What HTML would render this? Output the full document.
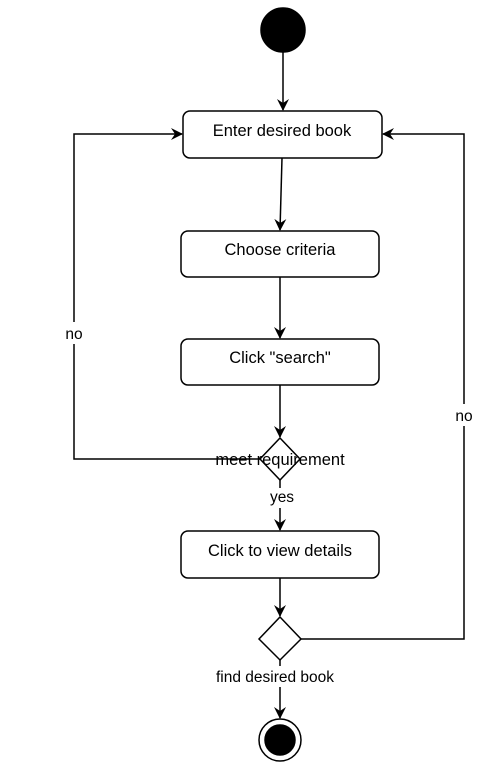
<!DOCTYPE html>
<html><head><style>
html,body{margin:0;padding:0;background:#fff;}
svg text{font-family:"Liberation Sans",Arial,sans-serif;fill:#000;}
</style></head><body>
<svg width="478" height="773" viewBox="0 0 478 773" xmlns="http://www.w3.org/2000/svg">
<defs>
<marker id="a" viewBox="0 0 12 12" refX="11" refY="6" markerWidth="12" markerHeight="12" markerUnits="userSpaceOnUse" orient="auto">
<path d="M0,0 L12,6 L0,12 L4,6 Z" fill="#000"/>
</marker>
</defs>
<g stroke="#000" stroke-width="1.5" fill="none">
<circle cx="283" cy="30" r="22" fill="#000"/>
<line x1="283" y1="52" x2="283" y2="110" marker-end="url(#a)"/>
<rect x="183" y="111" width="199" height="47" rx="7" fill="#fff"/>
<line x1="282" y1="158" x2="280" y2="230" marker-end="url(#a)"/>
<rect x="181" y="231" width="198" height="46" rx="7" fill="#fff"/>
<line x1="280" y1="277" x2="280" y2="338" marker-end="url(#a)"/>
<rect x="181" y="339" width="198" height="46" rx="7" fill="#fff"/>
<line x1="280" y1="385" x2="280" y2="437" marker-end="url(#a)"/>
<path d="M280,438 L300,459 L280,480 L260,459 Z" fill="#fff"/>
<path d="M260,459 L74,459 L74,134 L182,134" marker-end="url(#a)"/>
<line x1="280" y1="480" x2="280" y2="488"/>
<line x1="280" y1="508" x2="280" y2="530" marker-end="url(#a)"/>
<rect x="181" y="531" width="198" height="47" rx="7" fill="#fff"/>
<line x1="280" y1="578" x2="280" y2="616" marker-end="url(#a)"/>
<path d="M280,617 L301,639 L280,660 L259,639 Z" fill="#fff"/>
<path d="M301,639 L464,639 L464,134 L383,134" marker-end="url(#a)"/>
<line x1="280" y1="660" x2="280" y2="666"/>
<line x1="280" y1="687" x2="280" y2="718" marker-end="url(#a)"/>
<circle cx="280" cy="740" r="21" fill="#fff"/>
<circle cx="280" cy="740" r="15" fill="#000"/>
</g>
<g font-size="16.5" text-anchor="middle">
<text x="282" y="136">Enter desired book</text>
<text x="280" y="255">Choose criteria</text>
<text x="280" y="363">Click "search"</text>
<text x="280" y="556">Click to view details</text>
<text x="280" y="465">meet requirement</text>
<text x="282" y="502" font-size="15.5">yes</text>
<rect x="60" y="322" width="28" height="22" fill="#fff"/>
<text x="74" y="339" font-size="15.5">no</text>
<rect x="450" y="404" width="28" height="22" fill="#fff"/>
<text x="464" y="421" font-size="15.5">no</text>
<text x="275" y="682" font-size="15.5">find desired book</text>
</g>
</svg>
</body></html>
